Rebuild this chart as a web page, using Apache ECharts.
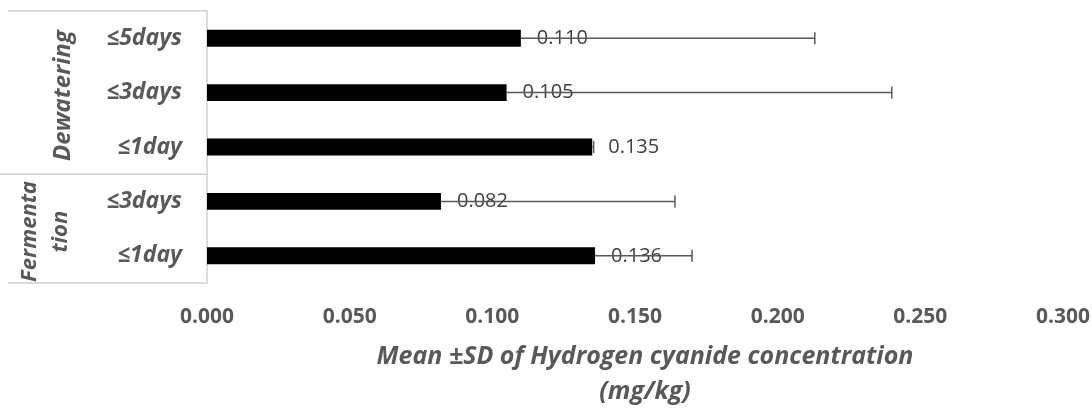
<!DOCTYPE html>
<html><head><meta charset="utf-8">
<script src="https://cdn.jsdelivr.net/npm/echarts@6/dist/echarts.min.js"></script>
<style>html,body{margin:0;padding:0;background:#fff}#c{width:1092px;height:409px}</style>
</head><body><div id="c"></div>
<script>
const categories = ['≤5days', '≤3days', '≤1day', '≤3days ', '≤1day '];
const groups = [
  { name: 'Dewatering', from: 0, to: 2 },
  { name: 'Fermenta\ntion', from: 3, to: 4 }
];
const means = [0.110, 0.105, 0.135, 0.082, 0.136];
const sds = [0.103, 0.135, 0.0005, 0.082, 0.034];
const xTicks = { min: 0, max: 0.3, interval: 0.05 };
const xTitle = 'Mean ±SD of Hydrogen cyanide concentration\n(mg/kg)';

const FONT = '"Open Sans"';
const GRAY = '#595959';
const chart = echarts.init(document.getElementById('c'));
const grid = { left: 207, right: 29, top: 11, bottom: 126, outerBoundsMode: 'none', containLabel: false };
chart.setOption({
  animation: false,
  grid: grid,
  xAxis: {
    type: 'value', min: xTicks.min, max: xTicks.max, interval: xTicks.interval,
    axisLine: { show: false }, axisTick: { show: false }, splitLine: { show: false },
    axisLabel: { formatter: v => v.toFixed(3), color: GRAY, fontFamily: FONT, fontWeight: 'bold', fontSize: 21, margin: 24 },
    name: xTitle, nameLocation: 'middle', nameGap: 56,
    nameTextStyle: { color: GRAY, fontFamily: FONT, fontStyle: 'italic', fontWeight: 'bold', fontSize: 25, lineHeight: 35, padding: [0, 0, 0, 20] }
  },
  yAxis: {
    type: 'category', data: categories, inverse: true,
    axisLine: { show: true, lineStyle: { color: '#d0d0d0', width: 1.5 } },
    axisTick: { show: false },
    axisLabel: { color: GRAY, fontFamily: FONT, fontStyle: 'italic', fontWeight: 'bold', fontSize: 23, margin: 25, formatter: v => v.trim() }
  },
  series: [
    {
      type: 'bar', data: means, barWidth: '31%',
      itemStyle: { color: '#000' },
      label: { show: true, position: 'right', distance: 16, formatter: p => p.value.toFixed(3), color: '#404040', fontFamily: FONT, fontSize: 20 },
      z: 2
    },
    {
      type: 'custom', z: 5,
      data: means.map((m, i) => [i, m, m + sds[i]]),
      renderItem: function (params, api) {
        const i = api.value(0);
        const a = api.coord([api.value(1), i]);
        const b = api.coord([api.value(2), i]);
        const h = 6;
        const style = { stroke: GRAY, lineWidth: 1.5 };
        return {
          type: 'group', children: [
            { type: 'line', shape: { x1: a[0], y1: a[1], x2: b[0], y2: b[1] }, style: style },
            { type: 'line', shape: { x1: b[0], y1: b[1] - h, x2: b[0], y2: b[1] + h }, style: style }
          ]
        };
      },
      encode: { x: [1, 2], y: 0 }
    }
  ]
});

// group boxes and labels, placed from the axis scale
function drawGroups() {
  const yc = categories.map(c => chart.convertToPixel({ yAxisIndex: 0 }, c));
  const band = yc[1] - yc[0];
  const x0 = grid.left;
  const els = [];
  const lineStyle = { stroke: '#d0d0d0', lineWidth: 1.5 };
  const top = yc[0] - band / 2;
  const bottom = yc[yc.length - 1] + band / 2;
  els.push({ type: 'line', shape: { x1: 8, y1: top, x2: x0, y2: top }, style: lineStyle });
  els.push({ type: 'line', shape: { x1: 8, y1: bottom, x2: x0, y2: bottom }, style: lineStyle });
  groups.forEach((g, gi) => {
    const gTop = yc[g.from] - band / 2, gBot = yc[g.to] + band / 2;
    if (gi > 0) els.push({ type: 'line', shape: { x1: 0, y1: gTop, x2: x0, y2: gTop }, style: lineStyle });
    const multi = g.name.indexOf('\n') >= 0;
    els.push({
      type: 'text', x: multi ? 45 : 63, y: (gTop + gBot) / 2 + 3, rotation: Math.PI / 2,
      style: { text: g.name, fill: GRAY, font: 'italic bold ' + (multi ? 22 : 24) + 'px ' + FONT, align: 'center', verticalAlign: 'middle', lineHeight: 31 }
    });
  });
  chart.setOption({ graphic: { elements: els } });
}
drawGroups();
</script></body></html>
